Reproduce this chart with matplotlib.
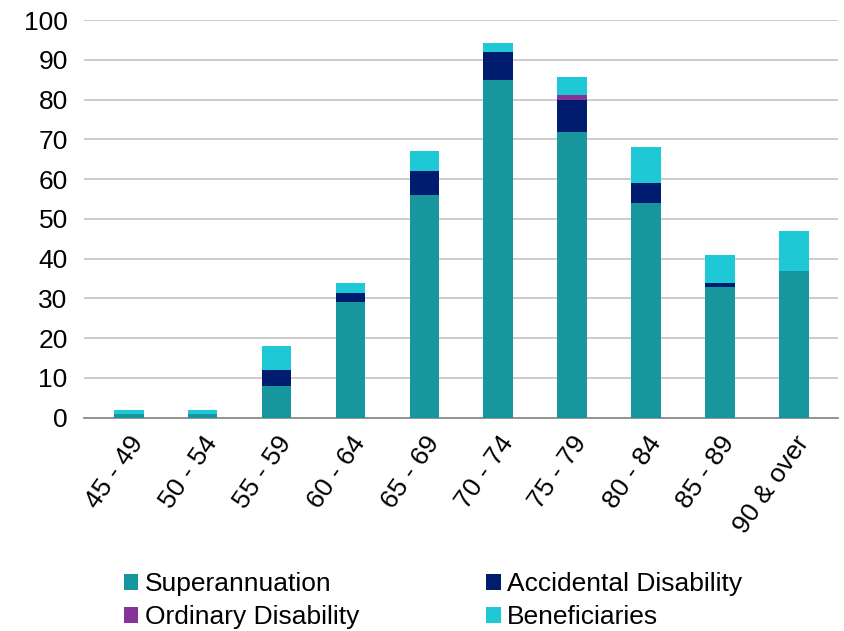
import matplotlib
matplotlib.use("Agg")
import matplotlib.pyplot as plt
import numpy as np

plt.rcParams["font.family"] = ["Liberation Sans", "DejaVu Sans"]

age_groups = ["45 - 49", "50 - 54", "55 - 59", "60 - 64", "65 - 69",
              "70 - 74", "75 - 79", "80 - 84", "85 - 89", "90 & over"]
superannuation = [1, 1, 8, 29, 56, 85, 72, 54, 33, 37]
accidental = [0, 0, 4, 2.5, 6, 7, 8, 5, 0.8, 0]
ordinary = [0, 0, 0, 0, 0, 0, 1.2, 0, 0, 0]
beneficiaries = [1, 1, 6, 2.3, 5, 2.3, 4.6, 9, 7.2, 10]

series = [
    ("Superannuation", superannuation, "#17979D"),
    ("Accidental Disability", accidental, "#001C6E"),
    ("Ordinary Disability", ordinary, "#88339A"),
    ("Beneficiaries", beneficiaries, "#1EC8D4"),
]

fig = plt.figure(figsize=(8.44, 6.31), dpi=100)
ax = fig.add_axes([0.1, 0.338, 0.893, 0.63])

x = np.arange(len(age_groups))
bottom = np.zeros(len(age_groups))
bars = []
for name, vals, color in series:
    bars.append(ax.bar(x, vals, 0.4, bottom=bottom, color=color, label=name, zorder=3))
    bottom += np.array(vals)

ax.set_ylim(0, 100)
ax.set_yticks(range(0, 101, 10))
ax.set_xlim(-0.6, len(age_groups) - 0.4)
ax.set_xticks(x)
ax.set_xticklabels(age_groups, rotation=55, ha="right", rotation_mode="anchor")
ax.tick_params(axis="both", length=0, labelsize=19)
ax.tick_params(axis="x", pad=10)
ax.tick_params(axis="y", pad=12)
ax.yaxis.grid(True, color="#C8C8C8", linewidth=1.3, zorder=0)
for side in ["top", "right", "left"]:
    ax.spines[side].set_visible(False)
ax.spines["bottom"].set_color("#8C8C8C")
ax.spines["bottom"].set_linewidth(1.3)

# legend fills column-wise, reorder so rows read like the original
order = [0, 2, 1, 3]
ax.legend([bars[i] for i in order], [series[i][0] for i in order],
          loc="upper left", bbox_to_anchor=(0.035, -0.355), ncol=2, frameon=False,
          fontsize=19, handlelength=0.55, handleheight=0.55, handletextpad=0.25,
          columnspacing=4.8, labelspacing=0.35, borderpad=0)

fig.savefig("out.png", dpi=100)
